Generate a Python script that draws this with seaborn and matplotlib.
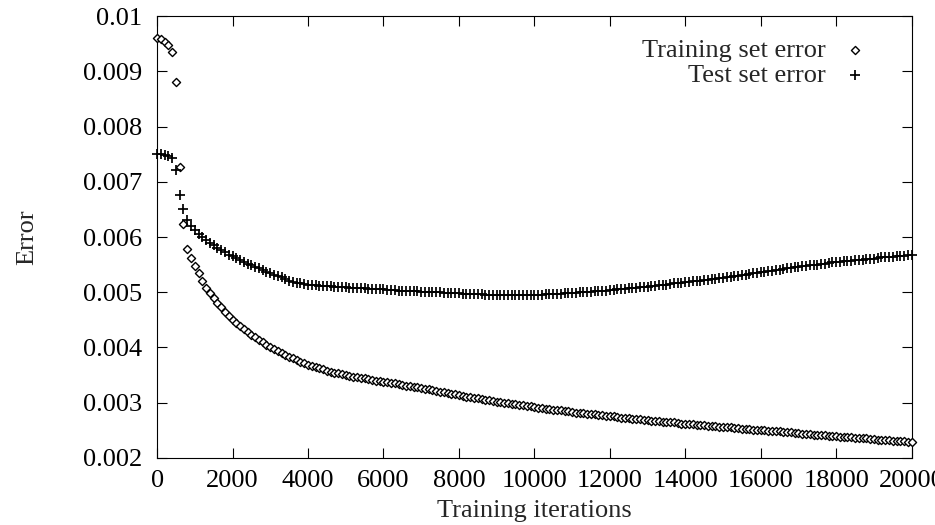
import matplotlib
matplotlib.use("Agg")
import matplotlib.pyplot as plt
import seaborn as sns
import numpy as np

sns.set_theme(style="ticks")
plt.rcParams['font.family'] = ['Liberation Serif', 'DejaVu Serif']

# training iterations, one sample every 100 iterations
iterations = list(range(0, 20001, 100))

# error values, in units of 1e-3
train_err_milli = [
    9.60, 9.58, 9.53, 9.48, 9.35, 8.81, 7.27, 6.24, 5.78, 5.62,
    5.48, 5.34, 5.20, 5.08, 4.98, 4.90, 4.81, 4.73, 4.65, 4.57,
    4.50, 4.44, 4.38, 4.33, 4.28, 4.23, 4.18, 4.13, 4.09, 4.05,
    4.01, 3.97, 3.93, 3.89, 3.86, 3.83, 3.80, 3.77, 3.74, 3.71,
    3.68, 3.66, 3.64, 3.62, 3.60, 3.58, 3.56, 3.54, 3.53, 3.51,
    3.50, 3.49, 3.47, 3.46, 3.45, 3.44, 3.43, 3.41, 3.40, 3.39,
    3.38, 3.37, 3.36, 3.35, 3.34, 3.32, 3.31, 3.30, 3.29, 3.28,
    3.26, 3.25, 3.24, 3.22, 3.21, 3.20, 3.19, 3.17, 3.16, 3.15,
    3.14, 3.12, 3.11, 3.10, 3.09, 3.08, 3.07, 3.05, 3.04, 3.03,
    3.02, 3.01, 3.00, 2.99, 2.98, 2.97, 2.96, 2.95, 2.94, 2.93,
    2.92, 2.91, 2.90, 2.89, 2.88, 2.87, 2.86, 2.86, 2.85, 2.84,
    2.83, 2.82, 2.82, 2.81, 2.80, 2.79, 2.79, 2.78, 2.77, 2.76,
    2.76, 2.75, 2.74, 2.73, 2.73, 2.72, 2.71, 2.70, 2.70, 2.69,
    2.68, 2.67, 2.67, 2.66, 2.65, 2.65, 2.64, 2.64, 2.63, 2.62,
    2.62, 2.61, 2.61, 2.60, 2.59, 2.59, 2.58, 2.58, 2.57, 2.56,
    2.56, 2.55, 2.55, 2.54, 2.54, 2.53, 2.53, 2.52, 2.51, 2.51,
    2.50, 2.50, 2.49, 2.49, 2.48, 2.48, 2.47, 2.46, 2.46, 2.45,
    2.45, 2.44, 2.44, 2.43, 2.42, 2.42, 2.41, 2.41, 2.40, 2.40,
    2.39, 2.38, 2.38, 2.37, 2.37, 2.36, 2.36, 2.35, 2.35, 2.34,
    2.34, 2.33, 2.33, 2.32, 2.32, 2.31, 2.31, 2.30, 2.30, 2.29,
    2.29,
]

test_err_milli = [
    7.50, 7.50, 7.49, 7.47, 7.44, 7.22, 6.76, 6.50, 6.31, 6.20,
    6.12, 6.06, 6.00, 5.95, 5.90, 5.86, 5.81, 5.76, 5.72, 5.68,
    5.65, 5.62, 5.58, 5.55, 5.52, 5.49, 5.46, 5.43, 5.40, 5.37,
    5.35, 5.32, 5.29, 5.27, 5.24, 5.21, 5.19, 5.17, 5.16, 5.15,
    5.14, 5.13, 5.13, 5.12, 5.12, 5.11, 5.11, 5.10, 5.10, 5.09,
    5.09, 5.08, 5.08, 5.08, 5.07, 5.07, 5.06, 5.06, 5.05, 5.05,
    5.05, 5.04, 5.04, 5.04, 5.03, 5.03, 5.03, 5.03, 5.02, 5.02,
    5.01, 5.01, 5.01, 5.00, 5.00, 5.00, 4.99, 4.99, 4.99, 4.98,
    4.98, 4.97, 4.97, 4.97, 4.96, 4.96, 4.96, 4.95, 4.95, 4.95,
    4.95, 4.95, 4.95, 4.95, 4.95, 4.95, 4.95, 4.95, 4.95, 4.95,
    4.95, 4.95, 4.95, 4.96, 4.96, 4.96, 4.97, 4.97, 4.98, 4.98,
    4.99, 4.99, 5.00, 5.00, 5.01, 5.01, 5.02, 5.02, 5.03, 5.03,
    5.04, 5.04, 5.05, 5.05, 5.06, 5.07, 5.07, 5.08, 5.09, 5.09,
    5.10, 5.11, 5.12, 5.13, 5.13, 5.14, 5.15, 5.16, 5.16, 5.17,
    5.18, 5.19, 5.20, 5.20, 5.21, 5.22, 5.23, 5.24, 5.24, 5.25,
    5.26, 5.27, 5.28, 5.29, 5.30, 5.31, 5.32, 5.33, 5.34, 5.35,
    5.36, 5.37, 5.38, 5.39, 5.40, 5.41, 5.42, 5.43, 5.44, 5.45,
    5.46, 5.47, 5.48, 5.49, 5.50, 5.50, 5.51, 5.52, 5.53, 5.54,
    5.54, 5.55, 5.56, 5.57, 5.57, 5.58, 5.59, 5.59, 5.60, 5.61,
    5.61, 5.62, 5.63, 5.63, 5.64, 5.64, 5.65, 5.66, 5.66, 5.67,
    5.68,
]

x_ticks = [0, 2000, 4000, 6000, 8000, 10000, 12000, 14000, 16000, 18000, 20000]
x_tick_labels = ["0", "2000", "4000", "6000", "8000", "10000", "12000",
                 "14000", "16000", "18000", "20000"]
y_ticks = [0.002, 0.003, 0.004, 0.005, 0.006, 0.007, 0.008, 0.009, 0.01]
y_tick_labels = ["0.002", "0.003", "0.004", "0.005", "0.006", "0.007",
                 "0.008", "0.009", "0.01"]

train_err = np.array(train_err_milli) / 1000
test_err = np.array(test_err_milli) / 1000

FS = 19

fig = plt.figure(figsize=(9.35, 5.25), dpi=100)
ax = fig.add_axes([0.168, 0.128, 0.807, 0.841])

sns.scatterplot(x=iterations, y=train_err, marker="D", s=17, color="white",
                edgecolor="black", linewidth=1.0, ax=ax, clip_on=False,
                label="Training set error", zorder=3)
sns.scatterplot(x=iterations, y=test_err, marker="+", s=55, color="black",
                linewidth=1.25, ax=ax, clip_on=False,
                label="Test set error", zorder=3)

ax.set_xlim(0, 20000)
ax.set_ylim(0.002, 0.01)
ax.set_xticks(x_ticks)
ax.set_xticklabels(x_tick_labels)
ax.set_yticks(y_ticks)
ax.set_yticklabels(y_tick_labels)
ax.tick_params(direction="in", length=7, width=0.8, top=True, right=True,
               labelsize=FS, colors="black")
ax.tick_params(axis="y", pad=11)
ax.tick_params(axis="x", pad=9)
for sp in ax.spines.values():
    sp.set_visible(True)
    sp.set_color("black")
    sp.set_linewidth(0.8)

ax.set_xlabel("Training iterations", fontsize=FS)
ax.set_ylabel("Error", fontsize=FS)
ax.xaxis.set_label_coords(0.5, -0.095)
ax.yaxis.set_label_coords(-0.158, 0.5)

ax.legend(loc="upper right", bbox_to_anchor=(0.942, 0.95), markerfirst=False,
          frameon=False, fontsize=FS, handlelength=1.0, handletextpad=0.6,
          labelspacing=0.05, borderpad=0, borderaxespad=0)

fig.savefig("out.png", dpi=100)
